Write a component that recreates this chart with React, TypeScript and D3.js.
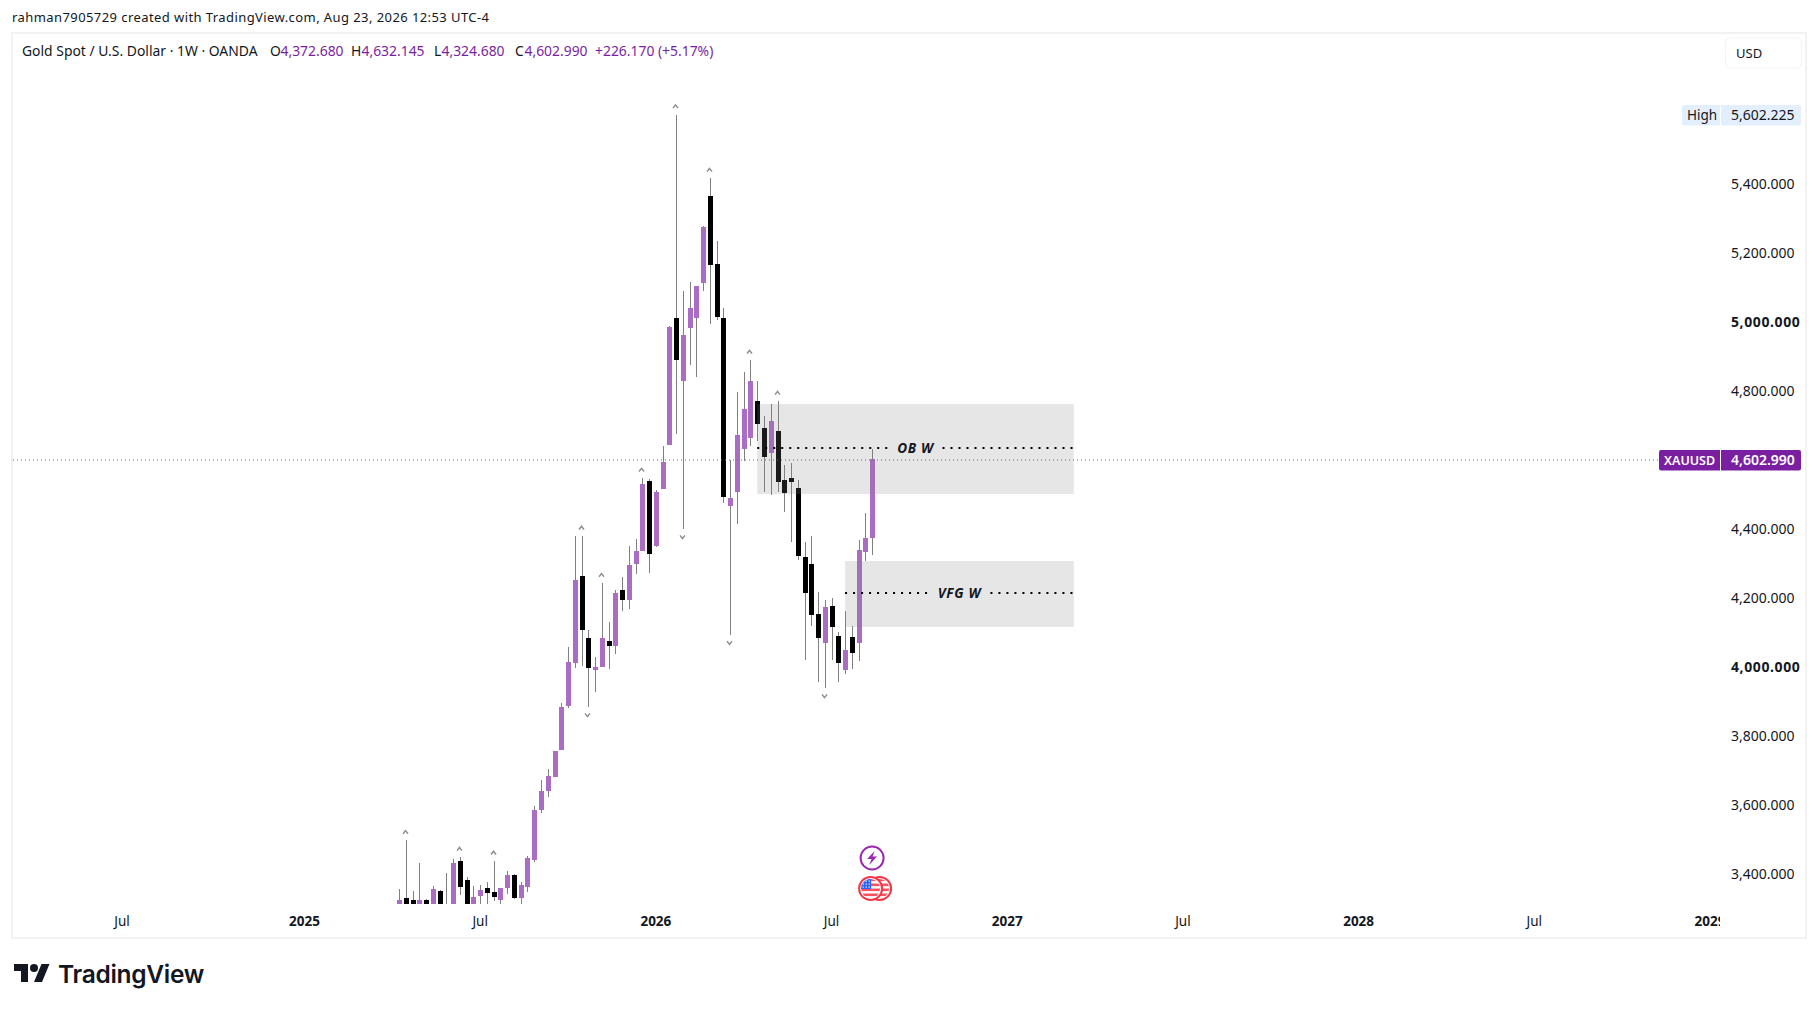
import * as d3 from "d3";
import React, { useEffect, useRef } from "react";

const FONT = "'Noto Sans', sans-serif";

// weekly candles, oldest first
const firstBar = "2025-04-14";
const lastBar = "2026-08-17";

const opens = [
  3302, 3331, 3325, 3308, 3325, 3308, 3352, 3308, 3302, 3439,
  3383, 3308, 3337, 3360, 3349, 3325, 3360, 3398, 3331, 3363,
  3441, 3586, 3641, 3682, 3760, 3888, 4012, 4265, 4085, 3992,
  4001, 4076, 4062, 4224, 4195, 4299, 4337, 4540, 4352, 4517,
  4644, 5012, 4830, 4983, 5012, 5114, 5366, 5169, 5012, 4468,
  4508, 4633, 4665, 4772, 4694, 4621, 4685, 4543, 4549, 4520,
  4320, 4299, 4155, 4070, 4178, 4091, 3992, 4088, 4070, 4334,
  4372.68,
];
const closes = [
  3325, 3308, 3308, 3325, 3308, 3357, 3308, 3291, 3433, 3363,
  3302, 3334, 3355, 3346, 3334, 3360, 3398, 3331, 3369, 3447,
  3586, 3641, 3685, 3757, 3885, 4015, 4253, 4108, 3998, 4001,
  4085, 4062, 4215, 4195, 4297, 4337, 4531, 4328, 4508, 4595,
  4986, 4891, 4963, 5041, 5105, 5276, 5166, 5015, 4494, 4491,
  4673, 4749, 4830, 4705, 4610, 4714, 4537, 4505, 4537, 4323,
  4215, 4152, 4085, 4175, 4117, 4012, 4050, 4041, 4340, 4375,
  4602.99,
];
const highs = [
  3357, 3499, 3352, 3433, 3327, 3366, 3355, 3404, 3444, 3450,
  3392, 3366, 3369, 3378, 3439, 3361, 3410, 3401, 3378, 3453,
  3598, 3673, 3705, 3758, 3897, 4059, 4381, 4381, 4108, 4030,
  4244, 4131, 4224, 4262, 4352, 4372, 4549, 4546, 4514, 4641,
  4989, 5602.225, 5091, 5117, 5106, 5279, 5418, 5236, 5041, 4601,
  4798, 4856, 4891, 4830, 4728, 4763, 4772, 4586, 4592, 4543,
  4363, 4381, 4218, 4195, 4201, 4102, 4163, 4120, 4369, 4447,
  4632.145,
];
const lows = [
  3291, 3297, 3297, 3297, 3297, 3297, 3297, 3279, 3291, 3340,
  3291, 3297, 3302, 3302, 3323, 3308, 3343, 3329, 3302, 3349,
  3436, 3578, 3624, 3681, 3759, 3882, 3998, 4004, 3885, 3928,
  4000, 3995, 4039, 4163, 4169, 4270, 4336, 4273, 4349, 4516,
  4643, 4676, 4401, 4876, 4842, 5091, 4995, 5007, 4476, 4094,
  4415, 4598, 4641, 4656, 4508, 4499, 4508, 4450, 4363, 4311,
  4021, 4120, 3957, 3940, 4021, 3957, 3981, 3995, 4018, 4308,
  4324.68,
];

// small swing markers, by bar number
const swingHighBars = [1, 9, 14, 27, 30, 36, 41, 46, 52, 56];
const swingLowBars = [28, 42, 49, 63];

// 4,600 is hidden behind the last price tag
const priceTicks = [3400, 3600, 3800, 4000, 4200, 4400, 4800, 5000, 5200, 5400];
const boldPrices = [4000, 5000];

const timeTicks = [
  ["2024-07-01", "Jul"],
  ["2025-01-06", "2025"],
  ["2025-07-07", "Jul"],
  ["2026-01-05", "2026"],
  ["2026-07-06", "Jul"],
  ["2027-01-04", "2027"],
  ["2027-07-05", "Jul"],
  ["2028-01-03", "2028"],
  ["2028-07-03", "Jul"],
  ["2029-01-01", "2029"],
];

const zones = [
  { label: "OB W", start: "2026-04-20", end: "2027-03-15", top: 4763, bottom: 4502, level: 4636, gap: 27 },
  { label: "VFG W", start: "2026-07-20", end: "2027-03-15", top: 4308, bottom: 4117, level: 4215, gap: 31 },
];

const legendParts = [
  { x: 22, text: "Gold Spot / U.S. Dollar · 1W · OANDA", fill: "#131722" },
  { x: 270, text: "O", fill: "#131722" },
  { x: 280.5, text: "4,372.680", fill: "#7b1fa2" },
  { x: 351, text: "H", fill: "#131722" },
  { x: 361.5, text: "4,632.145", fill: "#7b1fa2" },
  { x: 434, text: "L", fill: "#131722" },
  { x: 441.5, text: "4,324.680", fill: "#7b1fa2" },
  { x: 515, text: "C", fill: "#131722" },
  { x: 524.5, text: "4,602.990", fill: "#7b1fa2" },
  { x: 595, text: "+226.170 (+5.17%)", fill: "#7b1fa2" },
];

const UP = "#ab6cc3";
const DOWN = "#000000";
const WICK = "#808080";
const PURPLE = "#7b1fa2";

const App: React.FC = () => {
  const svgRef = useRef<SVGSVGElement>(null);

  useEffect(() => {
    if (!svgRef.current) return;
    const svg = d3.select(svgRef.current);
    svg.selectAll("*").remove();

    const parse = d3.utcParse("%Y-%m-%d");
    const start = parse(firstBar)!;
    const x = d3.scaleUtc().domain([start, parse(lastBar)!]).range([399.1, 872.1]);
    const y = d3.scaleLinear().domain([3400, 5400]).range([874.3, 184.3]);
    const fmt = d3.format(",.3f");

    const bars = opens.map((o, i) => ({
      i,
      open: o,
      close: closes[i],
      high: highs[i],
      low: lows[i],
      cx: Math.round(x(d3.utcWeek.offset(start, i))),
    }));

    const defs = svg.append("defs");
    defs.append("clipPath").attr("id", "pane").append("rect")
      .attr("x", 13).attr("y", 34).attr("width", 1707).attr("height", 870);
    defs.append("clipPath").attr("id", "timeAxis").append("rect")
      .attr("x", 13).attr("y", 905).attr("width", 1707).attr("height", 32);

    // frame
    svg.append("rect")
      .attr("x", 12).attr("y", 33).attr("width", 1794).attr("height", 905)
      .attr("fill", "#fff").attr("stroke", "#f2f2f2").attr("stroke-width", 2);

    svg.append("text")
      .attr("x", 12).attr("y", 22)
      .attr("fill", "#131722")
      .attr("textLength", 477)
      .style("font-family", FONT).style("font-size", "13px")
      .text("rahman7905729 created with TradingView.com, Aug 23, 2026 12:53 UTC-4");

    svg.append("g").selectAll("text")
      .data(legendParts)
      .join("text")
      .attr("x", (d) => d.x)
      .attr("y", 56)
      .attr("fill", (d) => d.fill)
      .style("font-family", FONT)
      .style("font-size", "13.9px")
      .text((d) => d.text);

    const pane = svg.append("g").attr("clip-path", "url(#pane)");

    // wicks then bodies
    pane.append("g").selectAll("rect")
      .data(bars)
      .join("rect")
      .attr("x", (d) => d.cx)
      .attr("y", (d) => y(d.high))
      .attr("width", 1)
      .attr("height", (d) => y(d.low) - y(d.high))
      .attr("fill", WICK)
      .attr("shape-rendering", "crispEdges");

    pane.append("g").selectAll("rect")
      .data(bars)
      .join("rect")
      .attr("x", (d) => d.cx - 2)
      .attr("y", (d) => Math.round(y(Math.max(d.open, d.close))))
      .attr("width", 5)
      .attr("height", (d) => Math.max(1, Math.round(Math.abs(y(d.open) - y(d.close)))))
      .attr("fill", (d) => (d.close >= d.open ? UP : DOWN))
      .attr("shape-rendering", "crispEdges");

    // swing carets
    const caret = (cx: number, cy: number, dir: number) =>
      `M${cx - 2.5},${cy + 1.6 * dir}L${cx},${cy - 1.6 * dir}L${cx + 2.5},${cy + 1.6 * dir}`;
    pane.append("g").selectAll("path")
      .data([
        ...swingHighBars.map((i) => caret(bars[i].cx - 0.5, y(bars[i].high) - 8, 1)),
        ...swingLowBars.map((i) => caret(bars[i].cx - 0.5, y(bars[i].low) + 8, -1)),
      ])
      .join("path")
      .attr("d", (d) => d)
      .attr("fill", "none")
      .attr("stroke", "#8c8c8c")
      .attr("stroke-width", 1.4);

    // zones sit over the candles
    zones.forEach((z) => {
      const x0 = x(parse(z.start)!);
      const x1 = x(parse(z.end)!) - 1;
      const mid = (x0 + x1) / 2;
      const ly = Math.round(y(z.level));
      pane.append("rect")
        .attr("x", x0)
        .attr("y", y(z.top))
        .attr("width", x1 - x0)
        .attr("height", y(z.bottom) - y(z.top))
        .attr("fill", "#808080")
        .attr("opacity", 0.2);
      [[x0, mid - z.gap], [mid + z.gap, x1]].forEach(([a, b]) => {
        pane.append("line")
          .attr("x1", a).attr("x2", b)
          .attr("y1", ly).attr("y2", ly)
          .attr("stroke", "#000")
          .attr("stroke-width", 2)
          .attr("stroke-dasharray", "2 6");
      });
      pane.append("text")
        .attr("x", mid)
        .attr("y", ly + 5)
        .attr("text-anchor", "middle")
        .attr("fill", "#131722")
        .style("font-family", FONT)
        .style("font-size", "13.5px")
        .style("font-style", "italic")
        .style("font-weight", "700")
        .style("letter-spacing", "0.7px")
        .text(z.label);
    });

    // last price line
    const lastY = Math.ceil(y(closes[closes.length - 1]));
    svg.append("line")
      .attr("x1", 13).attr("x2", 1659)
      .attr("y1", lastY).attr("y2", lastY)
      .attr("stroke", "#9c3fc0")
      .attr("stroke-width", 1)
      .attr("stroke-dasharray", "1 3");

    // event icons above the last bar
    const iconX = x(parse(lastBar)!);
    const bolt = svg.append("g").attr("transform", `translate(${iconX},858)`);
    bolt.append("circle").attr("r", 11.5).attr("fill", "#fff").attr("stroke", "#9c27b0").attr("stroke-width", 2);
    bolt.append("path").attr("d", "M2.5,-7L-5,1H-0.5L-3,7L5,-1.5H0.5Z").attr("fill", "#9c27b0");

    defs.append("clipPath").attr("id", "flagClip").append("circle").attr("r", 9.5);
    const flag = (dx: number, withCanton: boolean) => {
      const g = svg.append("g").attr("transform", `translate(${iconX + dx},888.5)`);
      g.append("circle").attr("r", 11.5).attr("fill", "#fff").attr("stroke", "#f23645").attr("stroke-width", 2);
      const inner = g.append("g").attr("clip-path", "url(#flagClip)");
      d3.range(-10, 10, 5).forEach((sy) => {
        inner.append("rect").attr("x", -10).attr("y", sy).attr("width", 20).attr("height", 2.6).attr("fill", "#f7525f");
      });
      if (withCanton) {
        inner.append("rect").attr("x", -10).attr("y", -10).attr("width", 10.5).attr("height", 10.5).attr("fill", "#2962ff");
        d3.range(-8, 0, 3).forEach((sy) => {
          d3.range(-8, 0, 3).forEach((sx) => {
            inner.append("rect").attr("x", sx).attr("y", sy).attr("width", 1.2).attr("height", 1.2).attr("fill", "#fff");
          });
        });
      }
    };
    flag(7.5, false);
    flag(-1.5, true);

    // time axis
    svg.append("g").attr("clip-path", "url(#timeAxis)").selectAll("text")
      .data(timeTicks)
      .join("text")
      .attr("x", (d) => x(parse(d[0])!))
      .attr("y", 925.5)
      .attr("text-anchor", "middle")
      .attr("fill", "#131722")
      .style("font-family", FONT)
      .style("font-size", "13.5px")
      .style("font-weight", (d) => (d[1] === "Jul" ? "400" : "700"))
      .text((d) => d[1]);

    // price axis, labels share a left edge
    svg.append("g").selectAll("text")
      .data(priceTicks)
      .join("text")
      .attr("x", 1731)
      .attr("y", (d) => y(d) + 5)
      .attr("fill", "#131722")
      .style("font-family", FONT)
      .style("font-size", "14px")
      .style("font-weight", (d) => (boldPrices.includes(d) ? "700" : "400"))
      .style("letter-spacing", (d) => (boldPrices.includes(d) ? "0.6px" : "0"))
      .text((d) => fmt(d));

    // currency button
    svg.append("rect")
      .attr("x", 1725.5).attr("y", 38).attr("width", 76).attr("height", 30).attr("rx", 5)
      .attr("fill", "#fff").attr("stroke", "#f0f3fa");
    svg.append("text")
      .attr("x", 1736).attr("y", 58)
      .attr("fill", "#131722")
      .style("font-family", FONT).style("font-size", "13px")
      .text("USD");

    // high and last price tags
    const tag = (label: string, value: number, fill: string, color: string, lx: number, weight: string, labelSize: string) => {
      const cy = Math.ceil(y(value));
      svg.append("path")
        .attr("d", `M${lx + 2},${cy - 10}H1720V${cy + 10.5}H${lx + 2}Q${lx},${cy + 10.5} ${lx},${cy + 8.5}V${cy - 8}Q${lx},${cy - 10} ${lx + 2},${cy - 10}Z`)
        .attr("fill", fill);
      svg.append("path")
        .attr("d", `M1721,${cy - 10}H1799Q1801,${cy - 10} 1801,${cy - 8}V${cy + 8.5}Q1801,${cy + 10.5} 1799,${cy + 10.5}H1721Z`)
        .attr("fill", fill);
      svg.append("text")
        .attr("x", lx + 5).attr("y", cy + 5)
        .attr("fill", color)
        .style("font-family", FONT).style("font-size", labelSize).style("font-weight", weight)
        .text(label);
      svg.append("text")
        .attr("x", 1731).attr("y", cy + 5)
        .attr("fill", color)
        .style("font-family", FONT).style("font-size", "14px").style("font-weight", weight)
        .text(fmt(value));
    };
    tag("High", d3.max(highs)!, "#e3effd", "#131722", 1682, "400", "13.5px");
    tag("XAUUSD", closes[closes.length - 1], PURPLE, "#ffffff", 1659, "600", "12.5px");

    // logo
    const logo = svg.append("g").attr("transform", "translate(14,960)").attr("fill", "#131722");
    logo.append("path").attr("d", "M14 22H7V11H0V4h14v18zM28 22h-8l7.5-18h8L28 22z");
    logo.append("circle").attr("cx", 20).attr("cy", 8).attr("r", 4);
    svg.append("text")
      .attr("x", 58).attr("y", 983)
      .attr("fill", "#131722")
      .style("font-family", "Inter, sans-serif")
      .style("font-size", "24.5px")
      .style("font-weight", "600")
      .style("letter-spacing", "-0.3px")
      .text("TradingView");
  }, []);

  return (
    <>
      <style>{`body{margin:0;background:#fff}`}</style>
      <svg ref={svgRef} width={1818} height={1010} style={{ display: "block" }} />
    </>
  );
};

export default App;
